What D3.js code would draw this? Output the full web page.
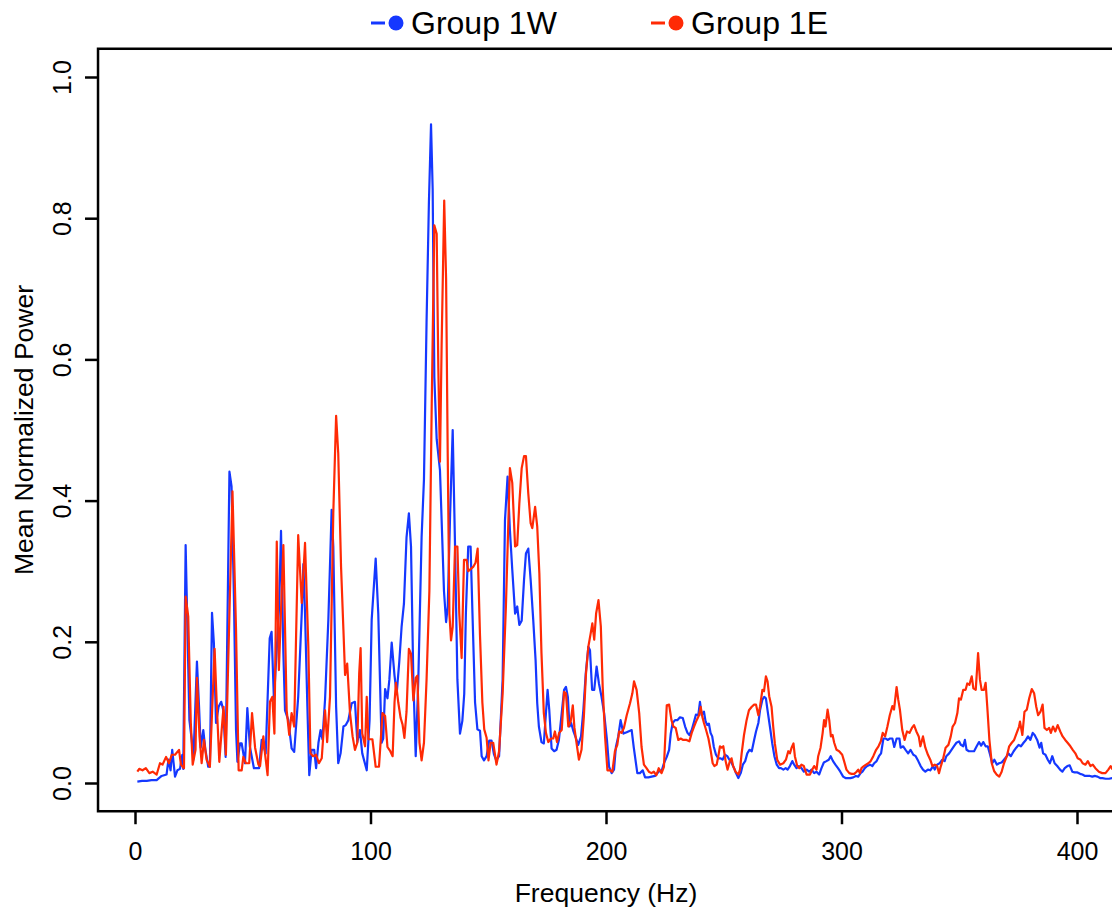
<!DOCTYPE html>
<html>
<head>
<meta charset="utf-8">
<script src="https://cdn.jsdelivr.net/npm/d3@7"></script>
<style>
  body { margin: 0; background: #fff; }
  svg { display: block; font-family: "Liberation Sans", Arial, Helvetica, sans-serif; }
</style>
</head>
<body>
<svg id="chart"></svg>
<script>
// series
var seriesNames = ["Group 1W", "Group 1E"];
var seriesColors = ["#1538ff", "#ff2a05"];

var freqW = [1,3,5,7,9.2,11.3,13.4,14.2,15.1,15.8,17,18,19.1,20.1,20.5,21.5,23.1,24.1,24.8,26.3,27.2,27.9,29,29.9,31.1,31.8,32.7,33.5,34.4,35.5,36.6,37.5,38.5,40.1,41,42,42.9,43.5,44.6,45.3,46.7,47.7,48.8,50.5,52.7,53.8,55.5,57.2,58,59,61.2,62,63,63.7,65.1,66.5,67.6,69.3,70.8,71.5,72.2,73.2,74,75,76.1,76.9,77.9,78.8,79.6,80.7,82.1,83.5,84.2,85.4,86.3,87.3,88.5,89.5,90.6,92,93.4,94.4,95.5,96.5,98.4,99.6,100.5,102.2,103.3,104.7,105.4,106.2,107.2,108,109,110.2,111.1,112.2,113.2,114.2,115.3,116.3,117.2,118.2,119.2,120.3,121.7,122.7,123.8,124.8,125.7,126.4,127.1,128.1,129.5,131.2,132.1,132.8,133.8,134.9,135.9,136.9,138,139,139.8,140.5,141.5,142.5,143.3,144.4,145.4,146.5,147.2,148.2,149.3,150.4,151.4,152.4,153.4,154.6,156.1,157.1,158.2,159.2,160.2,161.4,162.3,163.2,164.2,165.2,166,167,168,169.1,170.1,170.8,171.5,172.6,173.6,174.5,175.2,175.9,176.9,178,179,180,181.2,182.2,183,183.8,184.5,185.2,186.2,187.3,188.2,189.4,190.4,191.4,192.5,193.2,194.1,195,196,197,198.1,199.2,200.4,201.3,202.4,203.4,204.2,205.2,206.2,207.4,208.8,210.9,211.8,213.3,214.4,215.6,216.6,218,219.4,220.8,222.3,223.7,224.6,225.8,226.8,227.5,228.3,229.3,230.3,231.4,232.6,233.6,234.6,235.4,236.4,237.4,238.2,239.2,239.9,240.6,241.6,242.3,243,243.7,244.4,245.1,245.8,246.7,247.7,248.7,249.5,250.5,251.5,252.4,253.4,254.4,255.2,256.2,257.2,258.1,259.1,260,260.9,261.9,262.9,263.7,264.7,265.4,266.4,267.2,267.9,268.6,269.6,270.6,271.5,272.5,273.5,274.3,275.3,276.3,277.1,278.1,279.1,279.9,280.9,281.9,283,284,285.2,286.3,287.3,288.4,289.4,290.5,291.5,292.5,293.6,294.6,295.4,296.4,297.4,298.5,299.5,300.7,301.7,302.8,303.8,305,306.1,307.1,308.1,308.9,309.9,310.9,312.1,313.1,313.9,314.9,315.9,316.8,317.8,318.8,319.6,320.6,321.6,322.4,323.4,324.6,325.1,326.2,327.2,328.3,329.3,330.5,331.5,332.6,333.6,334.6,335.6,336.7,337.7,338.9,339.6,340.6,341.7,342.8,343.8,344.5,345.7,346.7,347.7,348.8,349.9,350.7,351.7,352.4,353.1,354.1,355.3,356.3,357.4,358.4,359.3,360.2,361.2,362.1,363.1,364,364.9,366,366.9,368,369,370.2,370.9,371.9,373.1,374.2,375.2,376.2,377.3,378.3,379.2,380.2,381.2,382,383.1,384.1,384.8,385.6,386.6,387.6,388.5,389.5,390.5,391.6,392.8,393.8,394.8,395.9,396.9,398,399,400.2,401.3,402.3,403.4,404.4,405.5,406.5,407.7,408.7,409.8,410.8,412.2,413.6,415.1];
var powerW = [0.002,0.003,0.003,0.004,0.004,0.01,0.012,0.033,0.018,0.047,0.009,0.018,0.02,0.04,0.02,0.337,0.089,0.061,0.033,0.172,0.108,0.05,0.075,0.047,0.023,0.023,0.241,0.198,0.085,0.108,0.115,0.103,0.037,0.441,0.42,0.264,0.075,0.03,0.056,0.056,0.028,0.106,0.051,0.021,0.021,0.061,0.042,0.205,0.214,0.118,0.25,0.357,0.184,0.103,0.089,0.049,0.044,0.122,0.24,0.31,0.24,0.108,0.011,0.047,0.047,0.021,0.057,0.075,0.062,0.118,0.231,0.387,0.335,0.108,0.028,0.042,0.08,0.082,0.089,0.113,0.115,0.058,0.075,0.042,0.018,0.089,0.231,0.318,0.24,0.057,0.063,0.133,0.12,0.146,0.199,0.152,0.126,0.171,0.221,0.254,0.348,0.382,0.335,0.146,0.038,0.146,0.348,0.43,0.652,0.822,0.933,0.841,0.575,0.487,0.443,0.272,0.228,0.25,0.38,0.5,0.335,0.146,0.07,0.088,0.126,0.24,0.335,0.335,0.24,0.114,0.076,0.074,0.038,0.032,0.038,0.06,0.06,0.041,0.032,0.038,0.146,0.372,0.434,0.358,0.302,0.24,0.25,0.224,0.23,0.288,0.325,0.332,0.288,0.231,0.174,0.113,0.08,0.058,0.056,0.099,0.132,0.104,0.049,0.045,0.047,0.061,0.099,0.132,0.136,0.122,0.08,0.085,0.073,0.063,0.054,0.066,0.104,0.155,0.193,0.188,0.132,0.132,0.165,0.141,0.122,0.099,0.061,0.023,0.014,0.019,0.051,0.066,0.089,0.07,0.072,0.075,0.05,0.014,0.014,0.018,0.008,0.008,0.009,0.01,0.016,0.018,0.028,0.037,0.047,0.07,0.085,0.089,0.089,0.093,0.092,0.08,0.071,0.068,0.075,0.087,0.097,0.096,0.115,0.096,0.101,0.087,0.082,0.084,0.071,0.066,0.051,0.04,0.035,0.035,0.033,0.04,0.038,0.033,0.028,0.021,0.014,0.007,0.014,0.026,0.031,0.042,0.047,0.045,0.061,0.073,0.085,0.103,0.118,0.122,0.12,0.103,0.08,0.056,0.038,0.026,0.021,0.021,0.019,0.021,0.019,0.024,0.031,0.026,0.021,0.024,0.021,0.016,0.019,0.016,0.019,0.014,0.016,0.012,0.021,0.029,0.031,0.033,0.038,0.031,0.026,0.021,0.016,0.009,0.007,0.007,0.007,0.008,0.01,0.009,0.014,0.016,0.021,0.024,0.026,0.024,0.028,0.031,0.038,0.042,0.063,0.063,0.061,0.063,0.063,0.051,0.063,0.063,0.05,0.052,0.047,0.042,0.047,0.04,0.038,0.031,0.024,0.019,0.016,0.019,0.018,0.024,0.019,0.026,0.028,0.033,0.031,0.038,0.042,0.047,0.052,0.057,0.059,0.054,0.052,0.061,0.047,0.045,0.045,0.045,0.052,0.058,0.053,0.058,0.052,0.052,0.04,0.028,0.033,0.026,0.028,0.029,0.033,0.038,0.042,0.038,0.045,0.05,0.054,0.052,0.057,0.061,0.066,0.061,0.071,0.068,0.061,0.05,0.057,0.042,0.04,0.033,0.028,0.038,0.028,0.024,0.019,0.016,0.021,0.024,0.025,0.016,0.015,0.015,0.013,0.012,0.01,0.01,0.01,0.009,0.01,0.009,0.007,0.007,0.006,0.006,0.007];

var freqE = [1,1.8,3.2,4.6,6.1,7.5,9.2,10.6,11.7,13.2,14.4,15.6,17,18.7,19.5,20.8,21.5,22.6,23.7,24.5,25.7,26.3,27.4,28.3,29.3,30.4,31.8,33.8,34.7,35.8,36.8,37.6,38.6,41.4,42.9,44,45.3,46,47.1,48.5,49.7,51,52.4,53.1,54.5,55.2,56.3,57.3,58.3,59.2,60.2,61.1,63,64.4,65.5,66.5,67.6,69.3,70.8,72.2,73.6,74.5,75.6,76.9,78.1,79.3,80.7,81.6,82.8,84.2,85.4,86.3,87.5,88.5,89.2,90.1,91.3,92.4,93.4,94.4,95.2,95.8,96.5,97.7,98.4,99.1,100.8,102.2,103.6,105.1,106.2,107.2,108.4,109.4,110.2,110.8,111.8,112.8,113.6,114.4,115.3,116.3,117.2,118.2,119.2,119.9,120.8,121.7,122.7,123.8,125,126,127.1,128.1,128.8,129.5,130.2,131.3,132.1,132.8,133.5,134.2,134.9,135.9,136.9,137.7,138.7,139.7,140.8,141.5,142.5,143.6,144.6,145.5,146.5,147.5,148.3,149.3,150.1,151,152.1,153.5,154.6,156.1,157.5,159.2,160.2,161.4,162.3,163.2,164.2,165.2,166,167,168,168.7,169.9,170.8,171.7,172.6,173.6,174.5,175.5,176.6,177.6,178.3,179.2,180.1,181.2,182.2,183,184,185,185.9,186.6,187.6,188.5,189.6,190.6,191.5,192.5,193.5,194.2,195,195.8,196.8,197.8,198.6,199.6,200.6,201.7,202.7,203.8,204.8,205.6,206.6,207.6,208.8,210.2,211.2,211.9,213,214.1,215.1,216.1,217.2,218.2,219.3,220.3,221.4,222.4,223.6,224.6,225.8,226.8,227.8,228.6,229.6,230.7,231.7,232.8,234.2,235.4,236.4,237.4,238.5,239.5,240.2,240.9,241.6,242.5,243.5,244.4,245.3,246,247,247.7,248.4,249.1,249.8,250.8,251.6,252.6,253.3,254,255,256.2,256.9,257.6,258.6,259.7,260.7,261.9,262.9,263.7,264.7,265.4,266.4,267.1,267.9,268.6,269.3,270.3,271,271.7,272.7,273.9,275.3,276.4,277.4,278.1,278.8,279.6,280.2,281.2,282.1,283,284,285.2,286.6,287.6,288.4,289.4,290.1,291.1,292,292.6,293.2,294.1,294.8,295.5,296.2,296.9,297.9,299,300.3,301.1,302.1,303.3,304.3,305.4,306.4,307.1,307.8,308.5,309.5,310.4,311.4,312.4,313.5,314.7,315.7,316.7,317.5,318.5,319.5,320.5,321.6,322.3,323.4,324.1,324.8,325.8,326.8,327.8,328.9,329.9,330.8,331.8,332.8,333.5,334.6,335.6,336.7,337.7,338.6,339.6,340.6,341.4,342.2,343.2,344.2,345.4,346.4,347.2,348.2,349.2,349.9,350.7,351.7,352.7,353.4,354.3,355.3,356,357,358,358.8,359.5,360.5,361.2,361.9,362.8,363.8,364.8,365.9,367,368,369,370.2,371.2,372.3,373.3,374.4,375.4,375.8,376.8,377.7,378.7,379.7,380.8,381.8,382.7,383.5,384.5,385.4,386.2,387.2,388.2,388.9,389.8,390.8,391.8,392.9,393.9,395,396,397.2,398.2,399.3,400.3,401.5,402.4,403.6,404.6,405.7,406.7,407.8,409.3,410.7,412.1,413.3,414.3,415.1];
var powerE = [0.016,0.02,0.018,0.021,0.014,0.016,0.012,0.028,0.026,0.037,0.028,0.04,0.04,0.047,0.026,0.021,0.264,0.236,0.085,0.026,0.047,0.149,0.066,0.028,0.061,0.033,0.023,0.19,0.113,0.03,0.075,0.108,0.04,0.413,0.217,0.018,0.018,0.037,0.028,0.028,0.099,0.05,0.026,0.024,0.066,0.042,0.011,0.115,0.122,0.07,0.342,0.16,0.337,0.103,0.068,0.099,0.08,0.351,0.255,0.34,0.193,0.042,0.038,0.04,0.028,0.035,0.103,0.058,0.122,0.382,0.52,0.467,0.306,0.217,0.153,0.169,0.099,0.066,0.047,0.057,0.155,0.191,0.07,0.052,0.122,0.062,0.062,0.023,0.023,0.099,0.095,0.051,0.045,0.038,0.114,0.142,0.114,0.092,0.083,0.064,0.101,0.19,0.183,0.117,0.149,0.152,0.057,0.032,0.057,0.146,0.272,0.537,0.79,0.778,0.588,0.455,0.62,0.825,0.714,0.462,0.24,0.202,0.221,0.335,0.335,0.24,0.177,0.316,0.316,0.3,0.303,0.306,0.312,0.332,0.209,0.114,0.076,0.064,0.032,0.057,0.057,0.026,0.045,0.126,0.25,0.446,0.425,0.335,0.337,0.396,0.446,0.463,0.463,0.41,0.368,0.361,0.391,0.363,0.297,0.184,0.099,0.071,0.058,0.063,0.063,0.073,0.058,0.071,0.075,0.129,0.127,0.08,0.087,0.11,0.078,0.054,0.033,0.047,0.094,0.155,0.193,0.212,0.226,0.203,0.24,0.259,0.222,0.136,0.066,0.018,0.018,0.016,0.045,0.054,0.073,0.071,0.078,0.096,0.113,0.127,0.144,0.132,0.099,0.051,0.026,0.021,0.016,0.014,0.016,0.011,0.021,0.014,0.023,0.11,0.111,0.089,0.08,0.078,0.061,0.063,0.061,0.061,0.059,0.071,0.08,0.089,0.096,0.108,0.094,0.085,0.075,0.063,0.047,0.028,0.024,0.026,0.038,0.052,0.05,0.052,0.031,0.019,0.031,0.035,0.024,0.016,0.012,0.019,0.042,0.068,0.089,0.103,0.108,0.111,0.111,0.096,0.108,0.132,0.13,0.151,0.144,0.123,0.108,0.08,0.056,0.033,0.026,0.028,0.033,0.045,0.042,0.05,0.056,0.038,0.024,0.021,0.026,0.024,0.012,0.012,0.019,0.024,0.019,0.038,0.05,0.071,0.089,0.08,0.104,0.089,0.066,0.068,0.057,0.047,0.045,0.04,0.031,0.019,0.014,0.013,0.013,0.016,0.019,0.014,0.021,0.024,0.026,0.028,0.031,0.038,0.047,0.052,0.059,0.071,0.066,0.08,0.096,0.109,0.104,0.136,0.118,0.104,0.075,0.061,0.073,0.071,0.078,0.082,0.073,0.066,0.052,0.066,0.05,0.04,0.033,0.024,0.026,0.024,0.014,0.024,0.035,0.05,0.054,0.066,0.08,0.085,0.099,0.12,0.118,0.132,0.132,0.141,0.139,0.151,0.134,0.132,0.184,0.146,0.132,0.132,0.142,0.108,0.061,0.028,0.017,0.012,0.009,0.016,0.028,0.038,0.052,0.057,0.061,0.071,0.08,0.087,0.068,0.101,0.104,0.12,0.133,0.127,0.108,0.096,0.101,0.111,0.078,0.075,0.078,0.071,0.08,0.073,0.082,0.073,0.066,0.061,0.057,0.052,0.047,0.042,0.035,0.033,0.028,0.026,0.031,0.024,0.026,0.021,0.016,0.014,0.014,0.019,0.024,0.019];

var xTicks = [0, 100, 200, 300, 400];
var yTicks = [0, 0.2, 0.4, 0.6, 0.8, 1.0];

var width = 1112;
var height = 911;

var svg = d3.select("#chart")
    .attr("width", width)
    .attr("height", height);

var xScale = d3.scaleLinear()
    .domain([0, 400])
    .range([135, 1077]);

var yScale = d3.scaleLinear()
    .domain([0, 1])
    .range([783, 77]);

// plot region (R adds 4% on each side)
var boxLeft = xScale(-15.7);
var boxRight = xScale(431.6);
var boxTop = yScale(1.04);
var boxBottom = yScale(-0.04);

svg.append("clipPath")
    .attr("id", "plotclip")
    .append("rect")
    .attr("x", boxLeft)
    .attr("y", boxTop)
    .attr("width", boxRight - boxLeft)
    .attr("height", boxBottom - boxTop);

var line = d3.line()
    .x(function(d) { return xScale(d[0]); })
    .y(function(d) { return yScale(d[1]); });

var seriesW = d3.zip(freqW, powerW);
var seriesE = d3.zip(freqE, powerE);

var plot = svg.append("g").attr("clip-path", "url(#plotclip)");

plot.append("path")
    .datum(seriesW)
    .attr("d", line)
    .attr("fill", "none")
    .attr("stroke", seriesColors[0])
    .attr("stroke-width", 2.2)
    .attr("stroke-linejoin", "round");

plot.append("path")
    .datum(seriesE)
    .attr("d", line)
    .attr("fill", "none")
    .attr("stroke", seriesColors[1])
    .attr("stroke-width", 2.2)
    .attr("stroke-linejoin", "round");

// box
svg.append("rect")
    .attr("x", boxLeft)
    .attr("y", boxTop)
    .attr("width", boxRight - boxLeft)
    .attr("height", boxBottom - boxTop)
    .attr("fill", "none")
    .attr("stroke", "#000")
    .attr("stroke-width", 2.5);

// x axis
var xAxis = d3.axisBottom(xScale)
    .tickValues(xTicks)
    .tickSize(13)
    .tickPadding(18)
    .tickFormat(d3.format("d"));

var gx = svg.append("g")
    .attr("transform", "translate(0," + boxBottom + ")")
    .call(xAxis);
gx.select(".domain").remove();
gx.selectAll(".tick line").attr("stroke", "#000").attr("stroke-width", 2.5);
gx.selectAll(".tick text")
    .attr("fill", "#000")
    .style("font-size", "25px")
    .style("font-family", "Liberation Sans, Arial, sans-serif");

// y axis
var yAxis = d3.axisLeft(yScale)
    .tickValues(yTicks)
    .tickSize(13)
    .tickFormat(d3.format(".1f"));

var gy = svg.append("g")
    .attr("transform", "translate(" + boxLeft + ",0)")
    .call(yAxis);
gy.select(".domain").remove();
gy.selectAll(".tick line").attr("stroke", "#000").attr("stroke-width", 2.5);
gy.selectAll(".tick text")
    .attr("fill", "#000")
    .attr("x", null)
    .attr("dy", null)
    .attr("text-anchor", "middle")
    .attr("transform", "translate(-27,0) rotate(-90)")
    .style("font-size", "25px")
    .style("font-family", "Liberation Sans, Arial, sans-serif");

// axis titles
svg.append("text")
    .attr("x", xScale(200))
    .attr("y", 902)
    .attr("text-anchor", "middle")
    .style("font-size", "26.5px")
    .text("Frequency (Hz)");

svg.append("text")
    .attr("transform", "translate(33," + yScale(0.5) + ") rotate(-90)")
    .attr("text-anchor", "middle")
    .style("font-size", "26.5px")
    .text("Mean Normalized Power");

// legend
var legendX = [371, 651];
var legend = svg.selectAll(".legend")
    .data(seriesNames)
    .enter()
    .append("g")
    .attr("class", "legend")
    .attr("transform", function(d, i) { return "translate(" + legendX[i] + ",23)"; });

legend.append("line")
    .attr("x1", 0).attr("x2", 14)
    .attr("y1", 0).attr("y2", 0)
    .attr("stroke", function(d, i) { return seriesColors[i]; })
    .attr("stroke-width", 3);

legend.append("circle")
    .attr("cx", 25)
    .attr("cy", 0)
    .attr("r", 7.5)
    .attr("fill", function(d, i) { return seriesColors[i]; });

legend.append("text")
    .attr("x", 40)
    .attr("y", 11)
    .style("font-size", "32px")
    .text(function(d) { return d; });
</script>
</body>
</html>
